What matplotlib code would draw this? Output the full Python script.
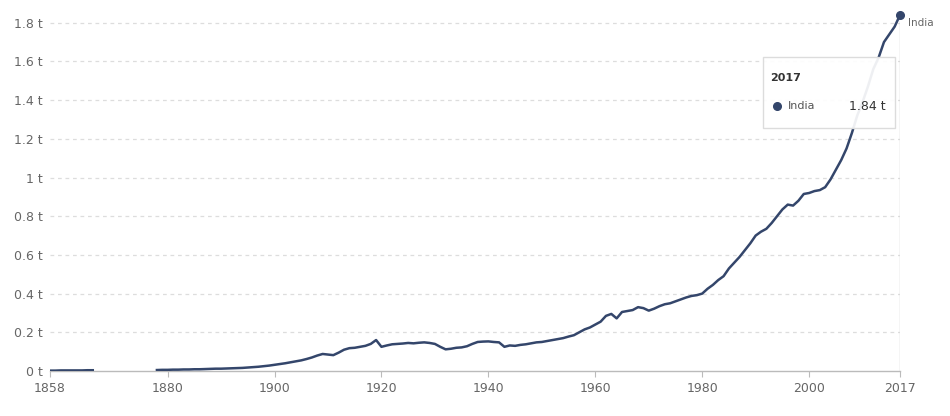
import numpy as np
import matplotlib
matplotlib.use("Agg")
import matplotlib.pyplot as plt
from matplotlib.patches import FancyBboxPatch

# ---- data (tonnes CO2 per capita, India) ----
years = list(range(1858, 2018))
values = (
    [0.002, 0.002, 0.003, 0.003, 0.003, 0.003, 0.003, 0.004, 0.004]          # 1858-1866
    + [None] * 11                                                             # 1867-1877 gap
    + [0.005, 0.006]                                                          # 1878-1879
    + [0.006, 0.007, 0.007, 0.008, 0.008, 0.009, 0.009, 0.010, 0.011, 0.012]  # 1880s
    + [0.012, 0.013, 0.014, 0.015, 0.016, 0.018, 0.020, 0.022, 0.025, 0.028]  # 1890s
    + [0.032, 0.036, 0.040, 0.045, 0.050, 0.055, 0.062, 0.070, 0.080, 0.088]  # 1900s
    + [0.085, 0.082, 0.095, 0.110, 0.118, 0.120, 0.125, 0.130, 0.140, 0.160]  # 1910s
    + [0.125, 0.132, 0.138, 0.140, 0.142, 0.145, 0.143, 0.146, 0.148, 0.145]  # 1920s
    + [0.140, 0.125, 0.112, 0.115, 0.120, 0.122, 0.128, 0.140, 0.150, 0.152]  # 1930s
    + [0.153, 0.150, 0.148, 0.125, 0.132, 0.130, 0.135, 0.138, 0.143, 0.148]  # 1940s
    + [0.150, 0.155, 0.160, 0.165, 0.170, 0.178, 0.185, 0.200, 0.215, 0.225]  # 1950s
    + [0.240, 0.255, 0.285, 0.295, 0.272, 0.305, 0.310, 0.315, 0.330, 0.325]  # 1960s
    + [0.312, 0.322, 0.335, 0.345, 0.350, 0.360, 0.370, 0.380, 0.388, 0.392]  # 1970s
    + [0.400, 0.425, 0.445, 0.470, 0.490, 0.530, 0.560, 0.590, 0.625, 0.660]  # 1980s
    + [0.700, 0.720, 0.735, 0.765, 0.800, 0.835, 0.860, 0.855, 0.880, 0.915]  # 1990s
    + [0.920, 0.930, 0.935, 0.950, 0.990, 1.040, 1.090, 1.150, 1.230, 1.320]  # 2000s
    + [1.390, 1.470, 1.560, 1.620, 1.700, 1.740, 1.780, 1.840]                # 2010-2017
)
series_name = "India"
y_ticks = [0, 0.2, 0.4, 0.6, 0.8, 1.0, 1.2, 1.4, 1.6, 1.8]
y_tick_labels = ["0 t", "0.2 t", "0.4 t", "0.6 t", "0.8 t", "1 t", "1.2 t", "1.4 t", "1.6 t", "1.8 t"]
x_ticks = [1858, 1880, 1900, 1920, 1940, 1960, 1980, 2000, 2017]
tooltip_year = "2017"
tooltip_value = "1.84 t"

vals = np.array([np.nan if v is None else v for v in values], dtype=float)
line_color = "#34466b"
grid_color = "#dddddd"
text_color = "#666666"

fig = plt.figure(figsize=(9.5, 4.16), dpi=100)
ax = fig.add_axes([50/950, 45/416, 850/950, (371-15)/416])

ax.plot(years, vals, color=line_color, lw=1.8, solid_joinstyle="round", zorder=3)
ax.plot([years[-1]], [vals[-1]], "o", color=line_color, ms=5.5, zorder=5, clip_on=False)

ax.set_xlim(1858, 2017)
ax.set_ylim(0, 1.84)
ax.set_yticks(y_ticks)
ax.set_yticklabels(y_tick_labels)
ax.set_xticks(x_ticks)
ax.set_xticklabels([str(x) for x in x_ticks])

for s in ["top", "right", "left"]:
    ax.spines[s].set_visible(False)
ax.spines["bottom"].set_color("#bbbbbb")
ax.spines["bottom"].set_linewidth(1)

ax.tick_params(axis="y", length=0, pad=5, labelsize=9, labelcolor=text_color)
ax.tick_params(axis="x", length=4, color="#bbbbbb", pad=4, labelsize=9, labelcolor=text_color)

for t in y_ticks[1:]:
    ax.axhline(t, color=grid_color, lw=0.9, ls=(0, (3, 3)), zorder=1)

# hover line at last year
ax.axvline(years[-1], color="#cfcfcf", lw=1, zorder=1)

# end label
ax.annotate(series_name, xy=(years[-1], vals[-1]), xytext=(6, -6), textcoords="offset points",
            fontsize=7.5, color=text_color, va="center", ha="left", annotation_clip=False)

# tooltip
fig_w, fig_h = 950, 416
x0, y0, x1, y1 = 763, 57, 895, 128
box = FancyBboxPatch((x0/fig_w, 1 - y1/fig_h), (x1-x0)/fig_w, (y1-y0)/fig_h,
                     boxstyle="square,pad=0", transform=fig.transFigure,
                     facecolor=(1, 1, 1, 0.92), edgecolor="#dcdcdc", lw=1, zorder=10)
fig.patches.append(box)
fig.text(770/fig_w, 1 - 78/fig_h, tooltip_year, fontsize=8, fontweight="bold",
         color="#333333", va="center", ha="left", zorder=11)
fig.lines.append(plt.Line2D([777/fig_w], [1 - 106/fig_h], marker="o", ms=5.5,
                            color=line_color, transform=fig.transFigure, zorder=11))
fig.text(788/fig_w, 1 - 106/fig_h, series_name, fontsize=8, color="#555555",
         va="center", ha="left", zorder=11)
fig.text(886/fig_w, 1 - 106/fig_h, tooltip_value, fontsize=9, color="#333333",
         va="center", ha="right", zorder=11)

fig.savefig("out.png", dpi=100, facecolor="white")
